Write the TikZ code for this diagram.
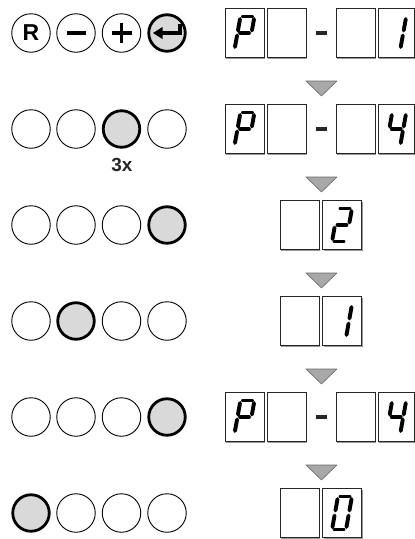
\documentclass[tikz,border=0pt]{standalone}
\usepackage{fontspec}
\setmainfont{Liberation Sans}
\usetikzlibrary{shadows}
\definecolor{keyfill}{HTML}{D9D9D9}
\definecolor{stepfill}{HTML}{A8A8A8}
\definecolor{stepline}{HTML}{6A6A6A}

% seven segment digits, local coords (y down), one entry per segment
\newcommand{\digP}{-4.5/-16.5/4.5/-16.5, 7/-14/7/-2.5, -7/-14/-7/-2.5, -4.5/0/4.5/0, -7/2.5/-7/14}
\newcommand{\digOne}{7/-14/7/-2.5, 7/2.5/7/14}
\newcommand{\digTwo}{-4.5/-16.5/4.5/-16.5, 7/-14/7/-2.5, -4.5/0/4.5/0, -7/2.5/-7/14, -4.5/16.5/4.5/16.5}
\newcommand{\digFour}{-7/-14/-7/-2.5, -4.5/0/4.5/0, 7/-14/7/-2.5, 7/2.5/7/14}
\newcommand{\digZero}{-4.5/-16.5/4.5/-16.5, 7/-14/7/-2.5, 7/2.5/7/14, -4.5/16.5/4.5/16.5, -7/2.5/-7/14, -7/-14/-7/-2.5}

\tikzset{
  key/.style={circle, draw, line width=0.9pt, minimum size=38.5pt, inner sep=0pt,
    font=\fontsize{23}{23}\selectfont\bfseries},
  keyhit/.style={key, fill=keyfill, line width=2.8pt, minimum size=36.5pt},
  digitbox/.style={rectangle, draw=black!85, fill=white, line width=0.7pt,
    minimum width=39pt, minimum height=49pt, inner sep=0pt,
    drop shadow={shadow xshift=1.3pt, shadow yshift=-1.3pt, fill=black!40, opacity=1}},
  lastbox/.style={digitbox, minimum width=36.5pt},
  seg/.style={line width=3.9pt, line cap=round},
  sign/.style={line width=3.8pt},
  minusbar/.style={fill=black!85, minimum width=11pt, minimum height=4pt, inner sep=0pt},
  nextstep/.style={draw=stepline, fill=stepfill, line width=0.6pt, line join=round},
}

\newcommand{\showdigit}[2]{%
  \begin{scope}[shift={(#1.center)}, xslant=0.18]
    \foreach \xa/\ya/\xb/\yb in #2 {\draw[seg] (\xa,\ya) -- (\xb,\yb);}
  \end{scope}}

\begin{document}
\begin{tikzpicture}[x=1pt, y=-1pt]
\useasboundingbox (0,0) rectangle (415,539);

% --- Step 1: R - + enter ---
\node[key] (kr) at (31,33) {R};
\node[key] (km) at (76,33) {};
\node[key] (kp) at (121.5,33) {};
\node[keyhit] (ke) at (167,33) {};
\draw[sign] ([xshift=-9.5pt]km.center) -- ([xshift=9.5pt]km.center);
\draw[sign] ([xshift=-10pt]kp.center) -- ([xshift=10pt]kp.center);
\draw[sign] ([yshift=-10pt]kp.center) -- ([yshift=10pt]kp.center);
\draw[line width=3.4pt, shift={(ke.center)}] (-6,0) -- (13,0) -- (13,-9);
\fill[shift={(ke.center)}] (-14,0) -- (-4.5,-6) -- (-4.5,6) -- cycle;

\node[digitbox] (d11) at (244.5,33) {};
\node[digitbox] (d12) at (286.5,33) {};
\node[minusbar] (bar1) at (321.5,33) {};
\node[digitbox] (d13) at (355.5,33) {};
\node[lastbox] (d14) at (396.25,33) {};
\showdigit{d11}{\digP}
\showdigit{d14}{\digOne}

\draw[nextstep] (306,81) -- (337,81) -- (321.5,96) -- cycle;

% --- Step 2: + three times ---
\node[key] (k21) at (31,129) {};
\node[key] (k22) at (76,129) {};
\node[keyhit] (k23) at (121.5,129) {};
\node[key] (k24) at (167,129) {};
\node[font=\fontsize{19}{19}\selectfont\bfseries, text=black!85] (times) at (122,165) {3x};

\node[digitbox] (d21) at (244.5,129) {};
\node[digitbox] (d22) at (286.5,129) {};
\node[minusbar] (bar2) at (321.5,129) {};
\node[digitbox] (d23) at (355.5,129) {};
\node[lastbox] (d24) at (396.25,129) {};
\showdigit{d21}{\digP}
\showdigit{d24}{\digFour}

\draw[nextstep] (306,177) -- (337,177) -- (321.5,192) -- cycle;

% --- Step 3: enter ---
\node[key] (k31) at (31,225) {};
\node[key] (k32) at (76,225) {};
\node[key] (k33) at (121.5,225) {};
\node[keyhit] (k34) at (167,225) {};

\node[digitbox] (d31) at (299.5,225) {};
\node[digitbox] (d32) at (342,225) {};
\showdigit{d32}{\digTwo}

\draw[nextstep] (306,273) -- (337,273) -- (321.5,288) -- cycle;

% --- Step 4: minus ---
\node[key] (k41) at (31,321) {};
\node[keyhit] (k42) at (76,321) {};
\node[key] (k43) at (121.5,321) {};
\node[key] (k44) at (167,321) {};

\node[digitbox] (d41) at (299.5,321) {};
\node[digitbox] (d42) at (342,321) {};
\showdigit{d42}{\digOne}

\draw[nextstep] (306,369) -- (337,369) -- (321.5,384) -- cycle;

% --- Step 5: enter ---
\node[key] (k51) at (31,417) {};
\node[key] (k52) at (76,417) {};
\node[key] (k53) at (121.5,417) {};
\node[keyhit] (k54) at (167,417) {};

\node[digitbox] (d51) at (244.5,417) {};
\node[digitbox] (d52) at (286.5,417) {};
\node[minusbar] (bar5) at (321.5,417) {};
\node[digitbox] (d53) at (355.5,417) {};
\node[lastbox] (d54) at (396.25,417) {};
\showdigit{d51}{\digP}
\showdigit{d54}{\digFour}

\draw[nextstep] (306,465) -- (337,465) -- (321.5,480) -- cycle;

% --- Step 6: reset ---
\node[keyhit] (k61) at (31,513) {};
\node[key] (k62) at (76,513) {};
\node[key] (k63) at (121.5,513) {};
\node[key] (k64) at (167,513) {};

\node[digitbox] (d61) at (299.5,513) {};
\node[digitbox] (d62) at (342,513) {};
\showdigit{d62}{\digZero}

\end{tikzpicture}
\end{document}
